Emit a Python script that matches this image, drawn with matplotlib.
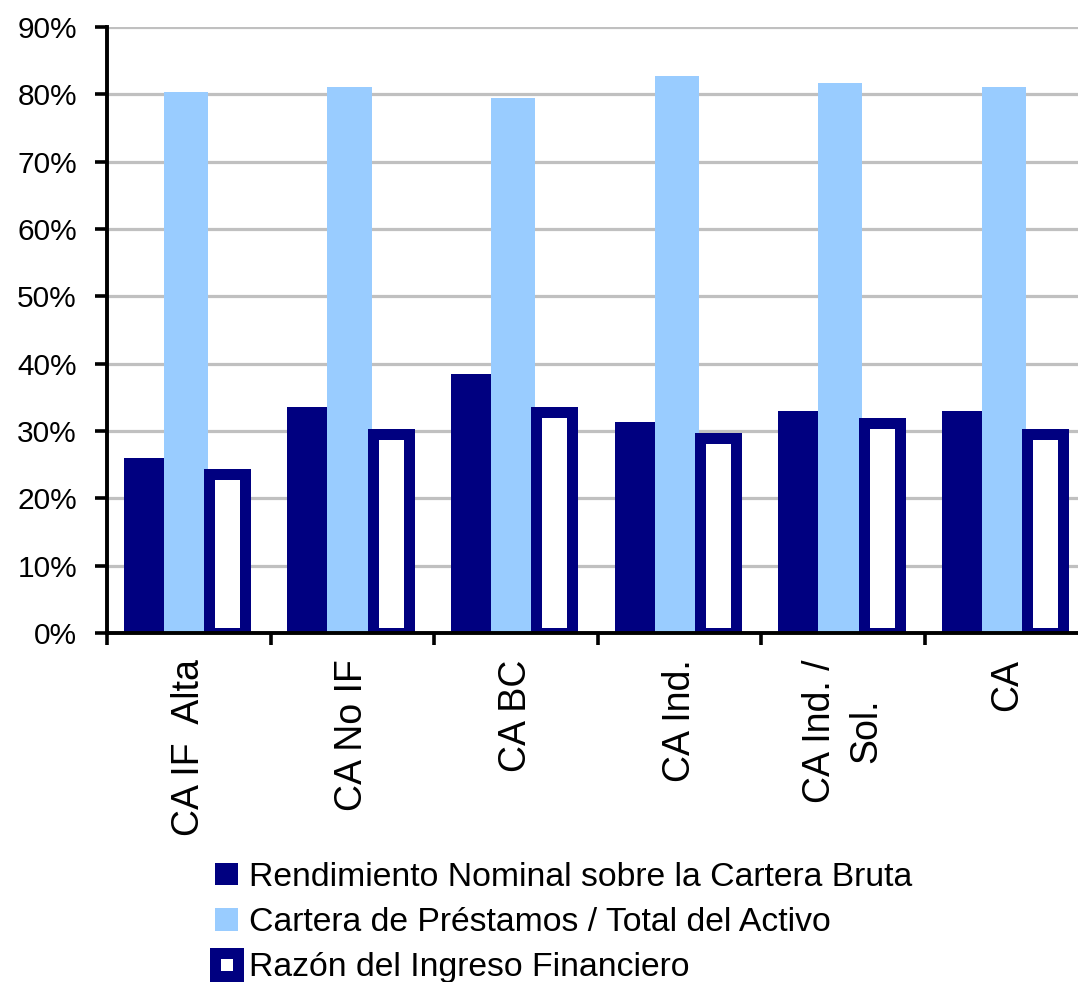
import matplotlib
matplotlib.use("Agg")
import matplotlib.pyplot as plt
import numpy as np

plt.rcParams['font.family'] = ['Liberation Sans', 'DejaVu Sans']

categories = ['CA IF  Alta', 'CA No IF', 'CA BC', 'CA Ind.', 'CA Ind. /\nSol.', 'CA']
rendimiento = [0.260, 0.336, 0.385, 0.314, 0.330, 0.330]
cartera = [0.804, 0.811, 0.795, 0.827, 0.817, 0.811]
razon = [0.236, 0.295, 0.328, 0.290, 0.312, 0.295]
series_names = ['Rendimiento Nominal sobre la Cartera Bruta',
                'Cartera de Préstamos / Total del Activo',
                'Razón del Ingreso Financiero']
yticks = [0.0, 0.1, 0.2, 0.3, 0.4, 0.5, 0.6, 0.7, 0.8, 0.9]
ytick_labels = ['0%', '10%', '20%', '30%', '40%', '50%', '60%', '70%', '80%', '90%']

NAVY = '#000080'
LIGHT = '#99CCFF'

W, H = 1078, 982
fig = plt.figure(figsize=(W / 100, H / 100), dpi=100)
cat_w = 163.6
ax = fig.add_axes([107 / W, (H - 633) / H, 6 * cat_w / W, (633 - 27) / H])

x = np.arange(len(categories)) + 0.5
b1 = ax.bar(x - 0.275, rendimiento, width=0.245, color=NAVY, zorder=2, linewidth=0)
b2 = ax.bar(x - 0.018, cartera, width=0.27, color=LIGHT, zorder=2, linewidth=0)
b3 = ax.bar(x + 0.235, razon, width=0.22, facecolor='white', edgecolor=NAVY,
            linewidth=11 * 72 / 100, zorder=3)

ax.set_xlim(0, len(categories))
ax.set_ylim(0, 0.9)

ax.set_yticks(yticks)
ax.set_yticklabels(ytick_labels)
ax.yaxis.grid(True, color='#C0C0C0', linewidth=2.3)
ax.set_axisbelow(True)

ax.set_xticks(np.arange(len(categories) + 1))
ax.set_xticklabels([])
ax.set_xticks(x, minor=True)
ax.set_xticklabels(categories, minor=True, rotation=90, va='top', ha='center',
                   multialignment='center', fontsize=27, linespacing=1.4)
ax.tick_params(axis='x', which='minor', length=0, pad=19)
ax.tick_params(axis='x', which='major', length=8.6, width=2.6, direction='out')
ax.tick_params(axis='y', which='major', length=8.6, width=2.6, direction='out',
               labelsize=21.5, pad=13)

for s in ['top', 'right']:
    ax.spines[s].set_visible(False)
for s in ['left', 'bottom']:
    ax.spines[s].set_linewidth(2.8)
    ax.spines[s].set_zorder(5)

leg = fig.legend([b1, b2, b3], series_names, loc='upper left',
                 bbox_to_anchor=(215 / W, 1 - 862 / H), frameon=False,
                 fontsize=24.3, handlelength=0.68, handleheight=0.65,
                 handletextpad=0.33, labelspacing=0.42, borderpad=0,
                 borderaxespad=0)

fig.savefig('out.png', dpi=100, facecolor='white')
